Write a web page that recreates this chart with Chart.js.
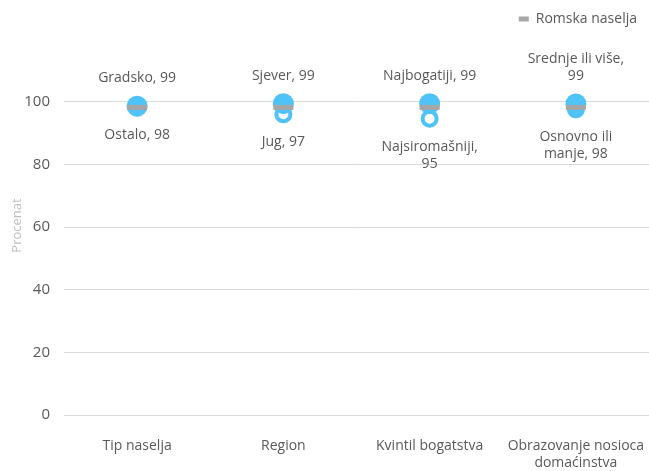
<!DOCTYPE html>
<html>
<head>
<meta charset="utf-8">
<script src="https://cdn.jsdelivr.net/npm/chart.js@4"></script>
<style>
  html, body { margin: 0; padding: 0; background: #fff; overflow: hidden; }
</style>
</head>
<body>
<canvas id="chart" width="649" height="471"></canvas>
<script>
const categories = [['Tip naselja'], ['Region'], ['Kvintil bogatstva'], ['Obrazovanje nosioca', 'domaćinstva']];
const highValues = [98.6, 99.4, 99.4, 99.3];
const highLabels = [['Gradsko, 99'], ['Sjever, 99'], ['Najbogatiji, 99'], ['Srednje ili više,', '99']];
const lowValues = [98.2, 96.0, 94.6, 97.6];
const lowLabels = [['Ostalo, 98'], ['Jug, 97'], ['Najsiromašniji,', '95'], ['Osnovno ili', 'manje, 98']];
const romaValues = [98.2, 98.2, 98.2, 98.2];
const yTicks = [0, 20, 40, 60, 80, 100];

const BLUE = '#4FC3F7';
const TEXT = '#595959';
const FONT = 'Open Sans';

// draws the category labels above the high point and below the low point
const pointLabels = {
  id: 'pointLabels',
  afterDatasetsDraw(chart) {
    const ctx = chart.ctx;
    const lineH = 17;
    ctx.save();
    ctx.font = `14px ${FONT}`;
    ctx.fillStyle = TEXT;
    ctx.textAlign = 'center';
    ctx.textBaseline = 'middle';
    chart.getDatasetMeta(1).data.forEach((pt, i) => {
      const lines = highLabels[i];
      lines.forEach((line, j) => {
        ctx.fillText(line, pt.x, pt.y - 28 - (lines.length - 1 - j) * lineH);
      });
    });
    chart.getDatasetMeta(2).data.forEach((pt, i) => {
      lowLabels[i].forEach((line, j) => {
        ctx.fillText(line, pt.x, pt.y + 28 + j * lineH);
      });
    });
    ctx.restore();
  }
};

new Chart(document.getElementById('chart'), {
  type: 'line',
  data: {
    labels: categories,
    datasets: [
      {
        label: 'Romska naselja',
        data: romaValues,
        showLine: false,
        pointStyle: 'line',
        pointRadius: 10,
        pointHoverRadius: 10,
        borderWidth: 5,
        borderColor: '#A6A6A6',
        backgroundColor: '#A6A6A6'
      },
      {
        label: 'high',
        data: highValues,
        showLine: false,
        pointStyle: 'circle',
        pointRadius: 10.5,
        pointBorderWidth: 0,
        backgroundColor: BLUE,
        borderColor: BLUE
      },
      {
        label: 'low',
        data: lowValues,
        showLine: false,
        pointStyle: 'circle',
        pointRadius: 7,
        pointBorderWidth: 4,
        backgroundColor: '#ffffff',
        borderColor: BLUE
      }
    ]
  },
  options: {
    responsive: false,
    animation: false,
    layout: { autoPadding: false, padding: { top: 0, right: 0, left: 7, bottom: 0 } },
    plugins: {
      tooltip: { enabled: false },
      legend: {
        position: 'top',
        align: 'end',
        labels: {
          filter: (item) => item.datasetIndex === 0,
          usePointStyle: true,
          pointStyleWidth: 10,
          boxHeight: 6,
          color: TEXT,
          font: { family: FONT, size: 14 },
          padding: 12
        }
      }
    },
    scales: {
      x: {
        offset: true,
        grid: { display: false, drawTicks: false },
        border: { display: false },
        ticks: {
          color: TEXT,
          font: { family: FONT, size: 14 },
          padding: 23,
          maxRotation: 0,
          autoSkip: false
        },
        afterFit: (scale) => {
          scale.height = 56;
          scale.paddingLeft = 0;
          scale.paddingRight = 0;
        }
      },
      y: {
        min: 0,
        max: 121,
        afterBuildTicks: (axis) => {
          axis.ticks = yTicks.map(v => ({ value: v }));
        },
        afterFit: (scale) => {
          scale.width = 57;
        },
        grid: { color: '#D9D9D9', drawTicks: false },
        border: { display: false },
        ticks: {
          color: TEXT,
          font: { family: FONT, size: 15 },
          padding: 14
        },
        title: {
          display: true,
          text: 'Procenat',
          color: '#BFBFBF',
          font: { family: FONT, size: 13 },
          padding: 2
        }
      }
    }
  },
  plugins: [pointLabels]
});
</script>
</body>
</html>
